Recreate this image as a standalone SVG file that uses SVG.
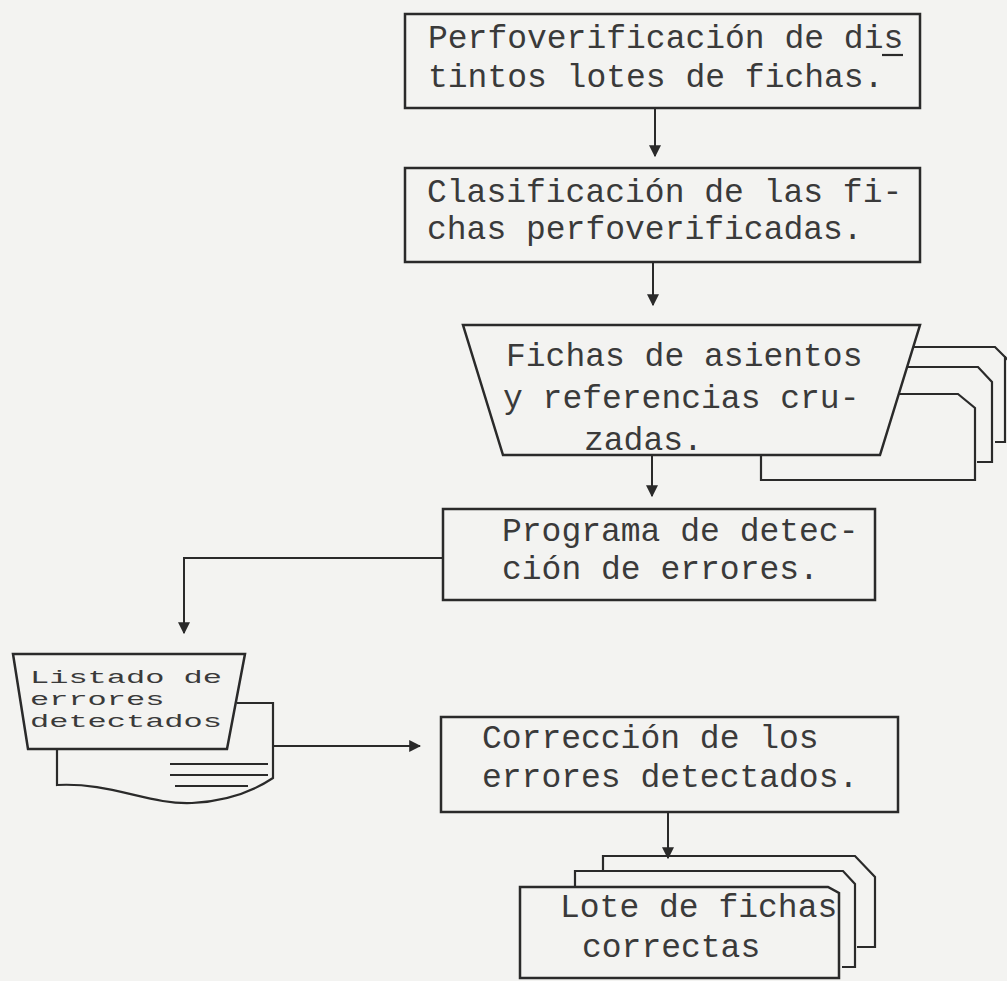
<svg xmlns="http://www.w3.org/2000/svg" width="1007" height="981" viewBox="0 0 1007 981">
<defs>
<style>
.box{fill:none;stroke:#2a2a2a;stroke-width:2.5;stroke-linejoin:miter}
.thin{fill:none;stroke:#2a2a2a;stroke-width:2.2}
.conn{fill:none;stroke:#2a2a2a;stroke-width:2}
.t{font-family:"Liberation Mono","Courier New",monospace;font-size:33px;fill:#3a3a3a}
.ts{font-family:"Liberation Mono","Courier New",monospace;font-size:32px;fill:#3a3a3a}
</style>
<marker id="ah" viewBox="0 0 10 10" refX="9" refY="5" markerWidth="12" markerHeight="12" markerUnits="userSpaceOnUse" orient="auto">
<path d="M0,0 L10,5 L0,10 z" fill="#2a2a2a"/>
</marker>
</defs>
<rect x="0" y="0" width="1007" height="981" fill="#f3f3f1"/>

<g id="connectors">
<path class="conn" d="M655,108 V156" marker-end="url(#ah)"/>
<path class="conn" d="M653,262 V305" marker-end="url(#ah)"/>
<path class="conn" d="M652,455 V496" marker-end="url(#ah)"/>
<path class="conn" d="M443,558 H184 V633" marker-end="url(#ah)"/>
<path class="conn" d="M273,746 H420" marker-end="url(#ah)"/>
<path class="conn" d="M668,812 V858" marker-end="url(#ah)"/>
</g>

<g id="node-perfoverificacion">
<rect class="box" x="405" y="14" width="515" height="94"/>
<text class="t" x="428" y="48">Perfoverificación de dis</text>
<line class="thin" x1="882" y1="55" x2="903" y2="55"/>
<text class="t" x="428" y="87">tintos lotes de fichas.</text>
</g>

<g id="node-clasificacion">
<rect class="box" x="405" y="168" width="515" height="94"/>
<text class="t" x="427" y="202">Clasificación de las fi-</text>
<text class="t" x="427" y="239">chas perfoverificadas.</text>
</g>

<g id="node-fichas-asientos">
<path class="thin" d="M913,347 H995 L1010,362 M1005,356 V442 H995"/>
<path class="thin" d="M907,367 H978 L992,382 V462 H977"/>
<path class="thin" d="M899,394 H958 L975,408 V480 H761 V455"/>
<path class="box" d="M463,325 H920 L880,455 H503 Z"/>
<text class="t" x="506" y="366">Fichas de asientos</text>
<text class="t" x="503" y="408">y referencias cru-</text>
<text class="t" x="584" y="450">zadas.</text>
</g>

<g id="node-programa">
<rect class="box" x="443" y="509" width="432" height="91"/>
<text class="t" x="502" y="541">Programa de detec-</text>
<text class="t" x="502" y="579">ción de errores.</text>
</g>

<g id="node-listado">
<path class="thin" d="M237,703 H273 V778 C255,790 230,801 192,803 C150,805 110,782 57,785 V749"/>
<line class="thin" x1="170" y1="764" x2="268" y2="764"/>
<line class="thin" x1="170" y1="775" x2="268" y2="775"/>
<line class="thin" x1="175" y1="786" x2="248" y2="786"/>
<path class="box" d="M13,654 H245 L227,749 H28 Z"/>
<text class="ts" transform="translate(30,683) scale(1,0.6)">Listado de</text>
<text class="ts" transform="translate(30,705) scale(1,0.6)">errores</text>
<text class="ts" transform="translate(30,727) scale(1,0.6)">detectados</text>
</g>

<g id="node-correccion">
<rect class="box" x="441" y="717" width="457" height="95"/>
<text class="t" x="482" y="748">Corrección de los</text>
<text class="t" x="482" y="787">errores detectados.</text>
</g>

<g id="node-lote">
<path class="thin" d="M603,870 V856 H855 L875,877 V947 H857"/>
<path class="thin" d="M575,887 V871 H843 L855,884 V967 H842"/>
<path class="box" d="M520,978 V887 H828 L839,893 V978 Z"/>
<text class="t" x="560" y="917">Lote de fichas</text>
<text class="t" x="582" y="957">correctas</text>
</g>
</svg>
